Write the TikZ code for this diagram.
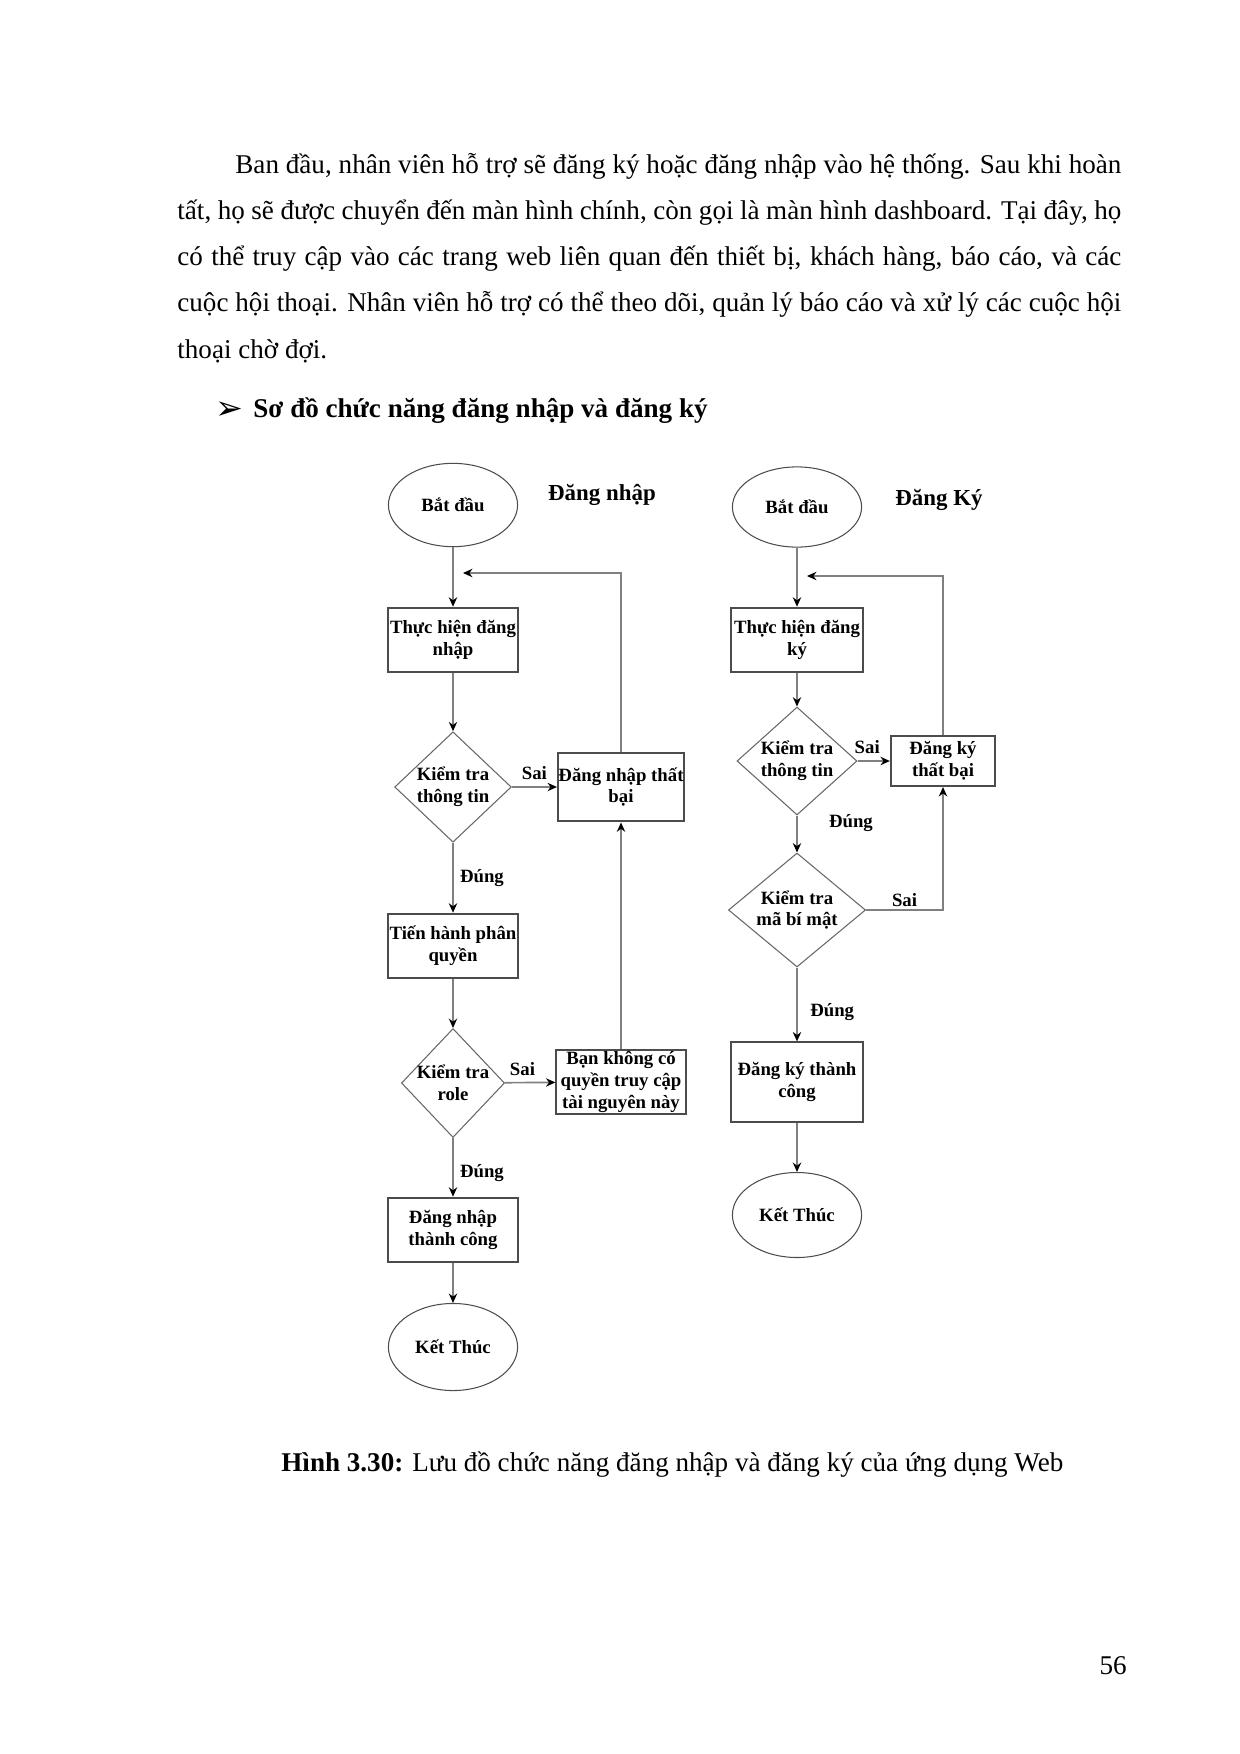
\documentclass[tikz,border=0pt]{standalone}
\usepackage{fontspec}
\setmainfont{Liberation Serif}
\newfontfamily\symfont{DejaVu Sans}
\usepackage{tikz}
\usetikzlibrary{shapes.geometric,arrows.meta}

\begin{document}
\begin{tikzpicture}[
    x=0.48pt, y=-0.48pt,
    every node/.style={inner sep=0pt, align=center, font=\bfseries\fontsize{9}{10.5}\selectfont},
    terminal/.style={ellipse, draw=black!70, line width=0.5pt, minimum width=62pt, minimum height=40pt},
    process/.style={rectangle, draw=black!70, line width=1pt, minimum width=62pt},
    decision/.style={diamond, draw=black!60, line width=0.5pt, inner sep=-3pt},
    flow/.style={draw=black!50, line width=0.8pt, -{Stealth[length=4.5pt, width=4pt, color=black]}},
    lbl/.style={inner sep=3pt},
    title/.style={font=\bfseries\fontsize{11}{13}\selectfont},
    body/.style={anchor=base west, font=\fontsize{13}{22}\selectfont}
]
\useasboundingbox (0,0) rectangle (1240,1754);
\fill[white] (0,0) rectangle (1240,1754);

% paragraph
\node[body] (line1) at (235,173) {\makebox[425.3pt][s]{Ban đầu, nhân viên hỗ trợ sẽ đăng ký hoặc đăng nhập vào hệ thống. Sau khi hoàn}};
\node[body] (line2) at (177,219) {\makebox[453.1pt][s]{tất, họ sẽ được chuyển đến màn hình chính, còn gọi là màn hình dashboard. Tại đây, họ}};
\node[body] (line3) at (177,265) {\makebox[453.1pt][s]{có thể truy cập vào các trang web liên quan đến thiết bị, khách hàng, báo cáo, và các}};
\node[body] (line4) at (177,311) {\makebox[453.1pt][s]{cuộc hội thoại. Nhân viên hỗ trợ có thể theo dõi, quản lý báo cáo và xử lý các cuộc hội}};
\node[body] (line5) at (177,358) {thoại chờ đợi.};
\node[body] (bullet) at (215,419) {{\symfont\fontsize{16}{16}\selectfont ➢}};
\node[body] (heading) at (253,417) {\textbf{Sơ đồ chức năng đăng nhập và đăng ký}};

% dang nhap
\node[terminal] (start1) at (453,505) {Bắt đầu};
\node[title] (title1) at (602,495) {Đăng nhập};
\node[process, minimum height=31pt] (login) at (453,640) {Thực hiện đăng\\nhập};
\node[decision, minimum width=56pt, minimum height=53pt] (chkinfo1) at (453,787) {Kiểm tra\\thông tin};
\node[process, minimum width=60.5pt, minimum height=33pt] (fail1) at (621,787) {Đăng nhập thất\\bại};
\node[process, minimum height=31pt] (perm) at (453,946) {Tiến hành phân\\quyền};
\node[decision, minimum width=49.5pt, minimum height=52.3pt] (chkrole) at (453,1083) {Kiểm tra\\role};
\node[process, minimum width=62pt, minimum height=31pt] (deny) at (621,1082) {Bạn không có\\quyền truy cập\\tài nguyên này};
\node[process, minimum height=31pt] (ok1) at (453,1230) {Đăng nhập\\thành công};
\node[terminal, minimum height=41.8pt] (end1) at (453,1347) {Kết Thúc};

\draw[flow] (start1) -- (login);
\draw[flow] (login) -- (chkinfo1);
\draw[flow] (chkinfo1) -- node[lbl, above] {Sai} (fail1);
\draw[flow] (chkinfo1) -- node[lbl, right] {Đúng} (perm);
\draw[flow] (perm) -- (chkrole);
\draw[flow] (chkrole) -- node[lbl, above, pos=0.35] {Sai} (deny);
\draw[flow] (chkrole) -- node[lbl, right, pos=0.6] {Đúng} (ok1);
\draw[flow] (ok1) -- (end1);
\draw[flow] (deny) -- (fail1);
\coordinate (back1) at (463,573);
\draw[flow] (fail1.north) |- (back1);

% dang ky
\node[terminal, minimum height=38.5pt] (start2) at (797,507) {Bắt đầu};
\node[title] (title2) at (939,500) {Đăng Ký};
\node[process, minimum width=63pt, minimum height=31pt] (reg) at (797,640) {Thực hiện đăng\\ký};
\node[decision, minimum width=57.6pt, minimum height=51.8pt] (chkinfo2) at (797,761) {Kiểm tra\\thông tin};
\node[process, minimum width=50pt, minimum height=24pt] (fail2) at (943,761) {Đăng ký\\thất bại};
\node[decision, minimum width=65.8pt, minimum height=54.7pt] (chksecret) at (797,910) {Kiểm tra\\mã bí mật};
\node[process, minimum width=63pt, minimum height=38pt] (ok2) at (797,1082) {Đăng ký thành\\công};
\node[terminal, minimum height=40.8pt] (end2) at (797,1215) {Kết Thúc};

\draw[flow] (start2) -- (reg);
\draw[flow] (reg) -- (chkinfo2);
\draw[flow] (chkinfo2) -- node[lbl, above, pos=0.3] {Sai} (fail2);
\draw[flow] (chkinfo2) -- node[lbl, right, pos=0.2, xshift=12pt] {Đúng} (chksecret);
\draw[flow] (chksecret.east) -| node[lbl, above, pos=0.25, inner sep=1pt] {Sai} (fail2.south);
\draw[flow] (chksecret) -- node[lbl, right, pos=0.6, xshift=3pt] {Đúng} (ok2);
\draw[flow] (ok2) -- (end2);
\coordinate (back2) at (807,576);
\draw[flow] (fail2.north) |- (back2);

% caption
\node[body] (caption) at (281,1471) {\textbf{Hình 3.30:} Lưu đồ chức năng đăng nhập và đăng ký của ứng dụng Web};
\node[body, anchor=base east] (pagenum) at (1127,1674) {56};
\end{tikzpicture}
\end{document}
